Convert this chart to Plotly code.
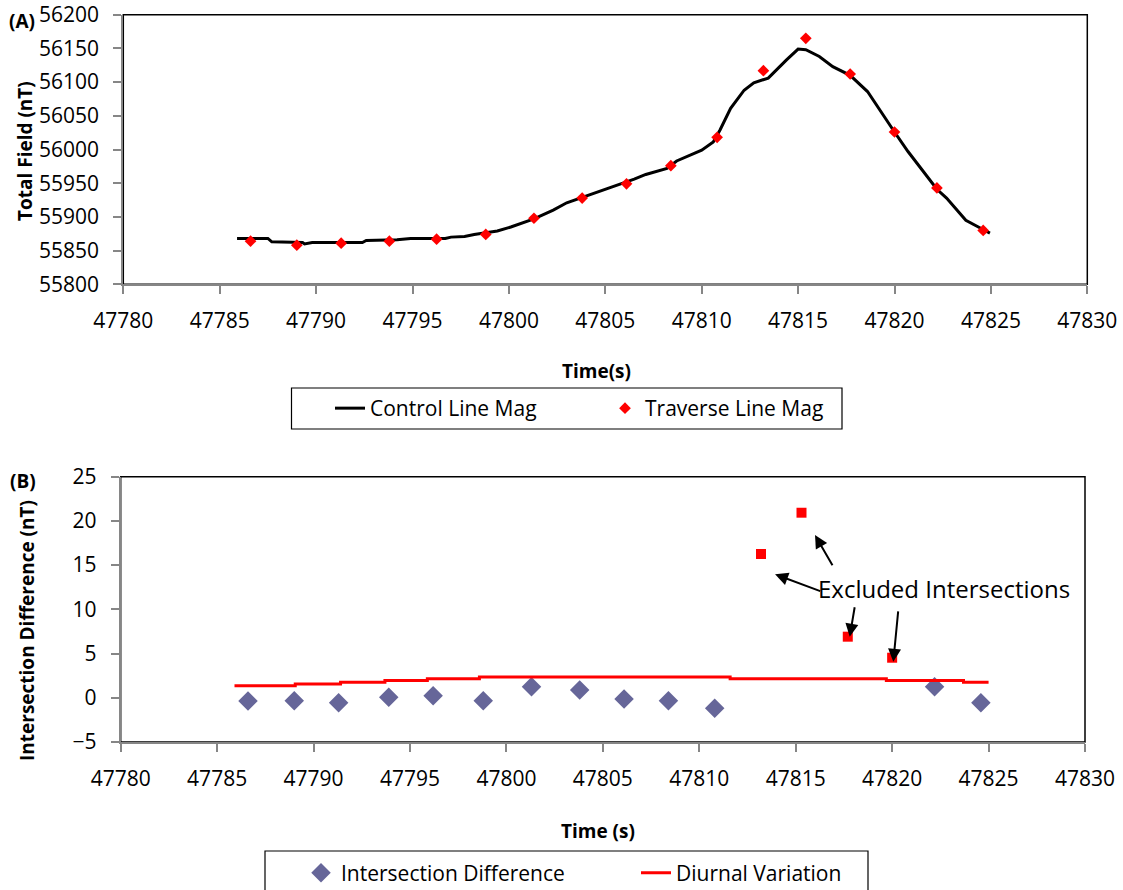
import plotly.graph_objects as go

W, H = 1123, 890

# ---------------- data ----------------
# Panel A: control line (continuous) and traverse line (points)
control_t = [47785.9, 47787.5, 47787.7, 47789.3, 47789.4, 47789.8, 47792.4, 47792.6,
             47794.2, 47794.9, 47796.7, 47797.0, 47797.7, 47798.2, 47799.4, 47800.1,
             47801.3, 47802.3, 47803.0, 47803.9, 47804.7, 47805.4, 47806.5, 47807.1,
             47808.2, 47808.7, 47809.4, 47810.0, 47810.6, 47810.95, 47811.5, 47812.2,
             47812.7, 47813.45, 47814.4, 47815.0, 47815.4, 47816.1, 47816.8, 47817.7,
             47818.6, 47818.9, 47819.4, 47820.0, 47820.7, 47821.3, 47822.2, 47822.7,
             47823.2, 47823.7, 47824.35, 47824.95]
control_v = [55868, 55868, 55863, 55862, 55860, 55862, 55862, 55865,
             55866, 55868, 55868, 55870, 55871, 55874, 55879, 55885,
             55897, 55910, 55921, 55930, 55938, 55944, 55956, 55963,
             55972, 55983, 55991, 55999, 56011, 56029, 56061, 56088,
             56099, 56106, 56133, 56149, 56148, 56138, 56123, 56110,
             56086, 56073, 56051, 56026, 55997, 55975, 55941, 55928,
             55911, 55895, 55885, 55876]

traverse_t = [47786.6, 47789.0, 47791.3, 47793.8, 47796.25, 47798.8, 47801.3, 47803.8,
              47806.1, 47808.4, 47810.8, 47813.2, 47815.4, 47817.7, 47820.0, 47822.2,
              47824.6]
traverse_v = [55864, 55858, 55861, 55864, 55867, 55874, 55898, 55928,
              55949, 55976, 56018, 56117, 56165, 56112, 56026, 55943,
              55880]

# Panel B: intersection differences (kept), excluded intersections, diurnal variation
diff_t = [47786.6, 47789.0, 47791.3, 47793.9, 47796.2, 47798.8, 47801.3, 47803.8,
          47806.1, 47808.4, 47810.8, 47822.2, 47824.6]
diff_v = [-0.37, -0.33, -0.56, 0.05, 0.23, -0.33, 1.25, 0.88,
          -0.14, -0.33, -1.19, 1.25, -0.56]

excl_t = [47813.2, 47815.3, 47817.7, 47820.0]
excl_v = [16.26, 20.93, 6.91, 4.53]

diurnal_t = [47785.9, 47789.05, 47791.4, 47793.7, 47795.9, 47798.6, 47811.6,
             47819.7, 47823.7, 47825.0]
diurnal_v = [1.35, 1.55, 1.75, 1.95, 2.15, 2.35, 2.15, 1.95, 1.75, 1.75]

x_ticks = [47780, 47785, 47790, 47795, 47800, 47805, 47810, 47815, 47820, 47825, 47830]

# arrows: (head_t, head_v, tail_t, tail_v)
arrows = [(47813.93, 13.96, 47816.35, 12.0),
          (47816.0, 18.41, 47816.95, 14.82),
          (47817.8, 6.91, 47818.07, 10.41),
          (47820.06, 4.08, 47820.32, 9.93)]

# ---------------- helpers ----------------
def px(x):
    return x / W

def py(y):
    return 1 - y / H

FONT = "Open Sans"
GRAY = "#868686"

fig = go.Figure()

fig.add_trace(go.Scatter(x=control_t, y=control_v, mode="lines", name="Control Line Mag",
                         line=dict(color="black", width=3), xaxis="x", yaxis="y",
                         legend="legend"))
fig.add_trace(go.Scatter(x=traverse_t, y=traverse_v, mode="markers", name="Traverse Line Mag",
                         marker=dict(symbol="diamond", size=9, color="#ff0000"),
                         xaxis="x", yaxis="y", legend="legend"))

fig.add_trace(go.Scatter(x=diff_t, y=diff_v, mode="markers", name="Intersection Difference",
                         marker=dict(symbol="diamond", size=15, color="#666699"),
                         xaxis="x2", yaxis="y2", legend="legend2"))
fig.add_trace(go.Scatter(x=diurnal_t, y=diurnal_v, mode="lines", name="Diurnal Variation",
                         line=dict(color="#ff0000", width=3, shape="hv"),
                         xaxis="x2", yaxis="y2", legend="legend2"))
fig.add_trace(go.Scatter(x=excl_t, y=excl_v, mode="markers", name="Excluded",
                         marker=dict(symbol="square", size=10, color="#ff0000"),
                         xaxis="x2", yaxis="y2", showlegend=False))

axis_common = dict(showgrid=False, zeroline=False, showline=True, linecolor=GRAY,
                   linewidth=2, ticks="outside", ticklen=8, tickwidth=1.5, tickcolor=GRAY,
                   tickformat="d",
                   tickfont=dict(family=FONT, size=21, color="black"))

fig.update_layout(
    width=W, height=H,
    margin=dict(l=0, r=0, t=0, b=0, autoexpand=False),
    paper_bgcolor="white", plot_bgcolor="white",
    xaxis=dict(domain=[px(123.3), px(1087.3)], range=[47780, 47830], tickvals=x_ticks,
               anchor="y", ticklabelstandoff=8, **axis_common),
    yaxis=dict(domain=[py(284.3), py(14.7)], range=[55800, 56200], dtick=50,
               anchor="x", ticklabelstandoff=10, **axis_common),
    xaxis2=dict(domain=[px(120.7), px(1085)], range=[47780, 47830], tickvals=x_ticks,
                anchor="y2", ticklabelstandoff=9, **axis_common),
    yaxis2=dict(domain=[py(742), py(476.7)], range=[-5, 25], dtick=5,
                anchor="x2", ticklabelstandoff=10, **axis_common),
    legend=dict(orientation="h", x=px(330), y=py(408.5), xanchor="left", yanchor="middle",
                font=dict(family=FONT, size=21, color="black"), bgcolor="rgba(0,0,0,0)",
                borderwidth=0, entrywidth=230, entrywidthmode="pixels"),
    legend2=dict(orientation="h", x=px(301), y=py(873), xanchor="left", yanchor="middle",
                 font=dict(family=FONT, size=21, color="black"), bgcolor="rgba(0,0,0,0)",
                 borderwidth=0, entrywidth=290, entrywidthmode="pixels"),
    showlegend=True,
)

shapes = []
# plot-area borders (black), axes drawn in gray on top
for xr, yr in (("x domain", "y domain"), ("x2 domain", "y2 domain")):
    shapes.append(dict(type="rect", xref=xr, yref=yr, x0=0, x1=1, y0=0, y1=1,
                       line=dict(color="black", width=1.5), layer="below"))
# legend boxes
shapes.append(dict(type="rect", xref="paper", yref="paper", x0=px(291.5), x1=px(842),
                   y0=py(429), y1=py(388), line=dict(color="black", width=1.2)))
shapes.append(dict(type="rect", xref="paper", yref="paper", x0=px(265), x1=px(868),
                   y0=py(905), y1=py(851), line=dict(color="black", width=1.2)))
fig.update_layout(shapes=shapes)

ann = []
bold = dict(family=FONT, size=19, color="black")
def label(text, x, y, font, angle=0):
    return dict(text=text, x=px(x), y=py(y), xref="paper", yref="paper",
                xanchor="center", yanchor="middle", showarrow=False,
                textangle=angle, font=font)

ann.append(label("<b>(A)</b>", 22, 21, bold))
ann.append(label("<b>(B)</b>", 23, 481, bold))
ann.append(label("<b>Total Field (nT)</b>", 25, 151, bold, -90))
ann.append(label("<b>Intersection Difference (nT)</b>", 27, 631, bold, -90))
ann.append(label("<b>Time(s)</b>", 596, 371, bold))
ann.append(label("<b>Time (s)</b>", 598, 831, bold))
ann.append(label("Excluded Intersections", 944, 588,
                 dict(family=FONT, size=24, color="black")))
for hx, hy, tx, ty in arrows:
    ann.append(dict(text="", x=hx, y=hy, ax=tx, ay=ty, xref="x2", yref="y2",
                    axref="x2", ayref="y2", showarrow=True, arrowhead=2, arrowsize=1.3,
                    arrowwidth=2, arrowcolor="black", standoff=0, startstandoff=0))
fig.update_layout(annotations=ann)

fig.write_html("out.html")
